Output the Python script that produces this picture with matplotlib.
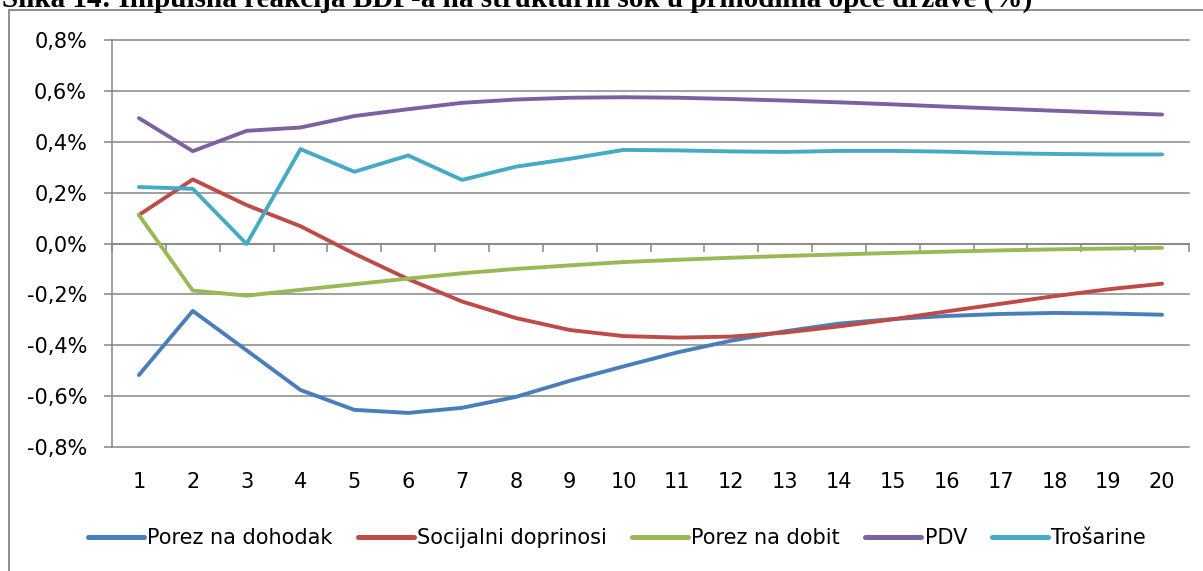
import matplotlib
matplotlib.use("Agg")
import matplotlib.pyplot as plt
import matplotlib.transforms as mtransforms
from matplotlib.patches import Rectangle

# horizon (quarters) and impulse responses (%)
periods = list(range(1, 21))
porez_na_dohodak = [-0.517, -0.265, -0.42, -0.576, -0.654, -0.666, -0.646, -0.603, -0.54, -0.483,
                    -0.428, -0.382, -0.345, -0.315, -0.297, -0.285, -0.277, -0.273, -0.275, -0.28]
socijalni_doprinosi = [0.112, 0.252, 0.151, 0.068, -0.04, -0.14, -0.228, -0.293, -0.34, -0.364,
                       -0.37, -0.366, -0.35, -0.326, -0.298, -0.267, -0.237, -0.207, -0.18, -0.158]
porez_na_dobit = [0.112, -0.185, -0.205, -0.182, -0.16, -0.138, -0.117, -0.1, -0.086, -0.073,
                  -0.064, -0.056, -0.049, -0.043, -0.037, -0.032, -0.027, -0.023, -0.02, -0.017]
pdv = [0.493, 0.363, 0.443, 0.456, 0.501, 0.528, 0.553, 0.566, 0.573, 0.575,
       0.573, 0.568, 0.562, 0.555, 0.547, 0.538, 0.53, 0.522, 0.514, 0.507]
trosarine = [0.222, 0.215, -0.002, 0.371, 0.282, 0.346, 0.25, 0.302, 0.333, 0.368,
             0.366, 0.362, 0.36, 0.364, 0.364, 0.361, 0.355, 0.352, 0.35, 0.35]

series_names = ["Porez na dohodak", "Socijalni doprinosi", "Porez na dobit", "PDV", "Trošarine"]
series_colors = ["#4A7EBB", "#BE4B48", "#98B954", "#7D60A0", "#46AAC5"]
y_ticks = [-0.8, -0.6, -0.4, -0.2, 0.0, 0.2, 0.4, 0.6, 0.8]
y_labels = ["-0,8%", "-0,6%", "-0,4%", "-0,2%", "0,0%", "0,2%", "0,4%", "0,6%", "0,8%"]
title = "Slika 14: Impulsna reakcija BDP-a na strukturni šok u prihodima opće države (%)"

W, H = 1203, 571
fig = plt.figure(figsize=(W / 100, H / 100), dpi=100)
ax = fig.add_axes([112 / W, 1 - 447 / H, (1189 - 112) / W, (447 - 40) / H])

grey = "#868686"
font = "DejaVu Sans"
fs = 15

for vals, name, col in zip([porez_na_dohodak, socijalni_doprinosi, porez_na_dobit, pdv, trosarine],
                           series_names, series_colors):
    ax.plot(periods, vals, color=col, lw=2.8, label=name, solid_capstyle="round",
            solid_joinstyle="round", zorder=3)

ax.set_xlim(0.5, 20.5)
ax.set_ylim(-0.8, 0.8)

# y axis
ax.set_yticks(y_ticks)
ax.set_yticklabels(y_labels, fontsize=fs, family=font)
ax.tick_params(axis="y", length=6, width=1.1, color=grey, pad=12, direction="out")
ax.grid(axis="y", color=grey, lw=1.1)
for gl in ax.get_ygridlines():
    gl.set_clip_on(False)

# category axis crossing at zero
ax.spines["bottom"].set_position(("data", 0))
ax.spines["bottom"].set_color(grey)
ax.spines["bottom"].set_linewidth(1.1)
ax.spines["left"].set_color(grey)
ax.spines["left"].set_linewidth(1.1)
ax.spines["top"].set_visible(False)
ax.spines["right"].set_visible(False)
ax.set_xticks([p - 0.5 for p in periods] + [periods[-1] + 0.5])
ax.set_xticklabels([])
ax.tick_params(axis="x", length=6, width=1.1, color=grey, direction="out")

trans = mtransforms.blended_transform_factory(ax.transData, fig.transFigure)
for p in periods:
    ax.text(p, 1 - 482 / H, str(p), transform=trans, ha="center", va="center",
            fontsize=fs, family=font)

leg = ax.legend(loc="center", bbox_to_anchor=(617 / W, 1 - 538 / H), bbox_transform=fig.transFigure,
                ncol=5, frameon=False, prop={"family": font, "size": fs},
                handlelength=2.7, handletextpad=0.15, columnspacing=1.2)
for ln in leg.get_lines():
    ln.set_linewidth(3.6)

# outer chart frame
fig.patches.append(Rectangle((9 / W, -0.1), 1.2, 1.1 - 10 / H, transform=fig.transFigure,
                             fill=False, edgecolor=grey, lw=1.3))

fig.text(0.002, 1 - 7 / H, title, family="Liberation Serif", weight="bold", fontsize=21,
         va="baseline", ha="left")

fig.savefig("out.png", dpi=100)
